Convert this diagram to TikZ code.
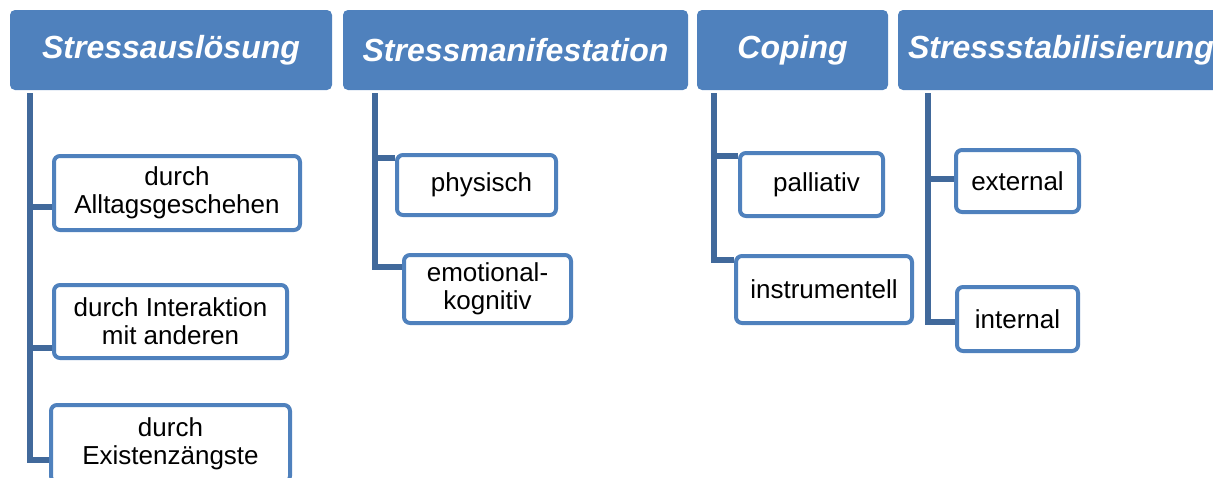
\documentclass[tikz,border=0pt]{standalone}
\usepackage{fontspec}
\setmainfont{Liberation Sans}
\usetikzlibrary{backgrounds}
\definecolor{hdrblue}{RGB}{79,129,189}
\definecolor{conncol}{RGB}{65,105,155}
\begin{document}
\begin{tikzpicture}[x=1pt,y=-1pt,
  header/.style={fill=hdrblue, rounded corners=5pt, inner sep=0pt, text=white,
    font=\bfseries\itshape\fontsize{32}{38}\selectfont, minimum height=80pt},
  child/.style={draw=hdrblue, fill=white, line width=4pt, rounded corners=6pt, inner sep=0pt,
    align=center, font=\fontsize{26}{28}\selectfont},
  conn/.style={draw=conncol, line width=5.5pt}
]
\useasboundingbox (0,0) rectangle (1213,477);

% headers
\node[header, minimum width=322pt] (h1) at (171,50) {Stressauslösung};
\node[header, minimum width=345pt] (h2) at (515.5,50) {Stressmanifestation};
\node[header, minimum width=191pt] (h3) at (792.5,50) {Coping};
\node[header, minimum width=326pt] (h4) at (1061,50) {Stressstabilisierung};

% children
\node[child, minimum width=246pt, minimum height=74pt] (c11) at (177,193) {durch\\Alltagsgeschehen};
\node[child, minimum width=233pt, minimum height=73pt] (c12) at (170.5,321.5) {durch Interaktion\\mit anderen};
\node[child, minimum width=239pt, minimum height=77pt] (c13) at (170.5,443.5) {durch\\Existenzängste};

\node[child, minimum width=159pt, minimum height=60pt] (c21) at (476.5,185) {\hspace*{10pt}physisch};
\node[child, minimum width=167pt, minimum height=68pt] (c22) at (487.5,289) {emotional-\\kognitiv};

\node[child, minimum width=143pt, minimum height=63pt] (c31) at (811.5,184.5) {\hspace*{10pt}palliativ};
\node[child, minimum width=176pt, minimum height=67pt] (c32) at (824,289.5) {instrumentell};

\node[child, minimum width=123pt, minimum height=62pt] (c41) at (1017.5,181) {external};
\node[child, minimum width=121pt, minimum height=64pt] (c42) at (1017.5,319) {internal};

% connectors
\begin{scope}[on background layer]
\draw[conn] ([xshift=20pt,yshift=-3pt]h1.south west) |- ([yshift=-14pt]c11.west);
\draw[conn] ([xshift=20pt,yshift=-3pt]h1.south west) |- ([yshift=-26.5pt]c12.west);
\draw[conn] ([xshift=20pt,yshift=-3pt]h1.south west) |- ([yshift=-16.5pt]c13.west);

\draw[conn] ([xshift=32pt,yshift=-3pt]h2.south west) |- ([yshift=27pt]c21.west);
\draw[conn] ([xshift=32pt,yshift=-3pt]h2.south west) |- ([yshift=22pt]c22.west);

\draw[conn] ([xshift=17pt,yshift=-3pt]h3.south west) |- ([yshift=28.5pt]c31.west);
\draw[conn] ([xshift=17pt,yshift=-3pt]h3.south west) |- ([yshift=29.5pt]c32.west);

\draw[conn] ([xshift=30pt,yshift=-3pt]h4.south west) |- ([yshift=2pt]c41.west);
\draw[conn] ([xshift=30pt,yshift=-3pt]h4.south west) |- ([yshift=-3pt]c42.west);
\end{scope}
\end{tikzpicture}
\end{document}
